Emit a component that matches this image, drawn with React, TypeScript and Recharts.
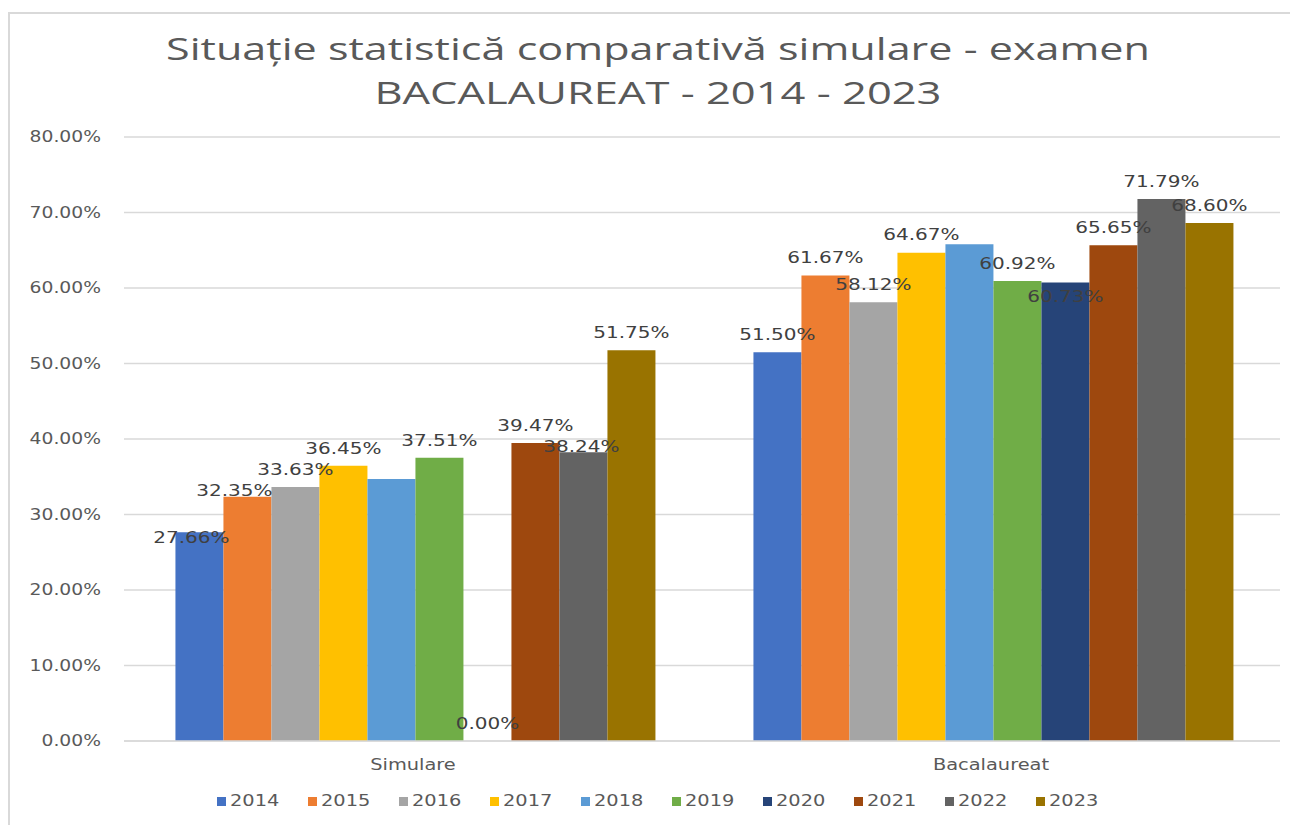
import { BarChart, Bar, XAxis, YAxis, CartesianGrid, Legend, LabelList } from 'recharts';

const categories = ['Simulare', 'Bacalaureat'];
const years = ['2014', '2015', '2016', '2017', '2018', '2019', '2020', '2021', '2022', '2023'];
const simulare = [27.66, 32.35, 33.63, 36.45, 34.7, 37.51, 0, 39.47, 38.24, 51.75];
const bacalaureat = [51.5, 61.67, 58.12, 64.67, 65.8, 60.92, 60.73, 65.65, 71.79, 68.6];
const yTicks = [0, 10, 20, 30, 40, 50, 60, 70, 80];

const colors = ['#4472C4', '#ED7D31', '#A5A5A5', '#FFC000', '#5B9BD5', '#70AD47', '#264478', '#9E480E', '#636363', '#997300'];

// years whose data labels are not shown in the original
const hiddenLabels = ['2018'];
// manual nudges of some labels (category -> year -> [dx, dy])
const labelNudge: Record<string, Record<string, [number, number]>> = {
  Simulare: { '2014': [-8, 23], '2015': [-13, 12], '2022': [-2, 12] },
  Bacalaureat: { '2020': [0, 32] },
};

const seriesValues = [simulare, bacalaureat];
const data = categories.map((name, ci) => {
  const row: Record<string, string | number> = { name };
  years.forEach((y, i) => {
    row[y] = seriesValues[ci][i];
  });
  return row;
});

const FONT = '"DejaVu Sans", sans-serif';
const STRETCH = 1.25;

function StretchText({ x, y, anchor, fill, size, children }: any) {
  return (
    <text
      x={0}
      y={0}
      transform={`translate(${x},${y}) scale(${STRETCH},1)`}
      textAnchor={anchor}
      dominantBaseline="central"
      fill={fill}
      fontSize={size}
      fontFamily={FONT}
    >
      {children}
    </text>
  );
}

const YTick = ({ x, y, payload }: any) => (
  <StretchText x={x} y={y} anchor="end" fill="#595959" size={15}>
    {`${Number(payload.value).toFixed(2)}%`}
  </StretchText>
);

const XTick = ({ x, y, payload }: any) => (
  <StretchText x={x} y={y + 16} anchor="middle" fill="#595959" size={15.5}>
    {payload.value}
  </StretchText>
);

const makeLabel = (year: string) => (props: any) => {
  const { x, y, width, value } = props;
  if (hiddenLabels.includes(year)) return null;
  const yi = years.indexOf(year);
  const ci = seriesValues.findIndex((arr) => arr[yi] === Number(value));
  const nudge = labelNudge[categories[ci]]?.[year] ?? [0, 0];
  return (
    <StretchText x={x + width / 2 + nudge[0]} y={y - 18 + nudge[1]} anchor="middle" fill="#404040" size={16}>
      {`${Number(value).toFixed(2)}%`}
    </StretchText>
  );
};

const renderLegend = () => (
  <div style={{ display: 'flex', justifyContent: 'center', paddingLeft: 56, height: 24, alignItems: 'center' }}>
    {years.map((y, i) => (
      <div key={y} style={{ display: 'flex', alignItems: 'center', marginRight: 15.5 }}>
        <div style={{ width: 9, height: 9, background: colors[i], marginRight: 4 }} />
        <span
          style={{
            fontFamily: FONT,
            fontSize: 15.5,
            color: '#595959',
            display: 'inline-block',
            transform: `scaleX(${STRETCH})`,
            transformOrigin: 'left center',
            width: 50 * STRETCH,
          }}
        >
          {y}
        </span>
      </div>
    ))}
  </div>
);

export default function App() {
  return (
    <div style={{ position: 'relative', width: 1290, height: 817, background: '#fff' }}>
      <div
        style={{
          position: 'absolute',
          left: 0,
          top: 4,
          right: 0,
          bottom: 0,
          borderLeft: '2px solid #d9d9d9',
          borderTop: '2px solid #d9d9d9',
        }}
      />
      <svg width={1290} height={120} style={{ position: 'absolute', left: 0, top: 0 }}>
        <text
          x={650}
          y={52}
          textAnchor="middle"
          fontFamily='"Open Sans", sans-serif'
          fontSize={31}
          fill="#595959"
          textLength={984}
          lengthAdjust="spacingAndGlyphs"
        >
          Situație statistică comparativă simulare - examen
        </text>
        <text
          x={650}
          y={96}
          textAnchor="middle"
          fontFamily='"Open Sans", sans-serif'
          fontSize={31}
          fill="#595959"
          textLength={567}
          lengthAdjust="spacingAndGlyphs"
        >
          BACALAUREAT - 2014 - 2023
        </text>
      </svg>
      <div style={{ position: 'absolute', left: 0, top: 0 }}>
        <BarChart
          width={1290}
          height={817}
          data={data}
          margin={{ top: 129, right: 18, bottom: 20, left: 0 }}
          barCategoryGap="8.9%"
          barGap={0}
        >
          <CartesianGrid vertical={false} stroke="#d9d9d9" strokeWidth={1.5} />
          <XAxis
            dataKey="name"
            height={40}
            axisLine={{ stroke: '#d9d9d9', strokeWidth: 1.5 }}
            tickLine={false}
            tick={<XTick />}
          />
          <YAxis
            width={116}
            domain={[0, 80]}
            ticks={yTicks}
            axisLine={false}
            tickLine={false}
            tickMargin={17}
            tick={<YTick />}
          />
          <Legend
            verticalAlign="bottom"
            content={renderLegend}
            wrapperStyle={{ bottom: 12 }}
          />
          {years.map((y, i) => (
            <Bar key={y} dataKey={y} fill={colors[i]} minPointSize={0.01} isAnimationActive={false}>
              <LabelList dataKey={y} content={makeLabel(y)} />
            </Bar>
          ))}
        </BarChart>
      </div>
    </div>
  );
}
